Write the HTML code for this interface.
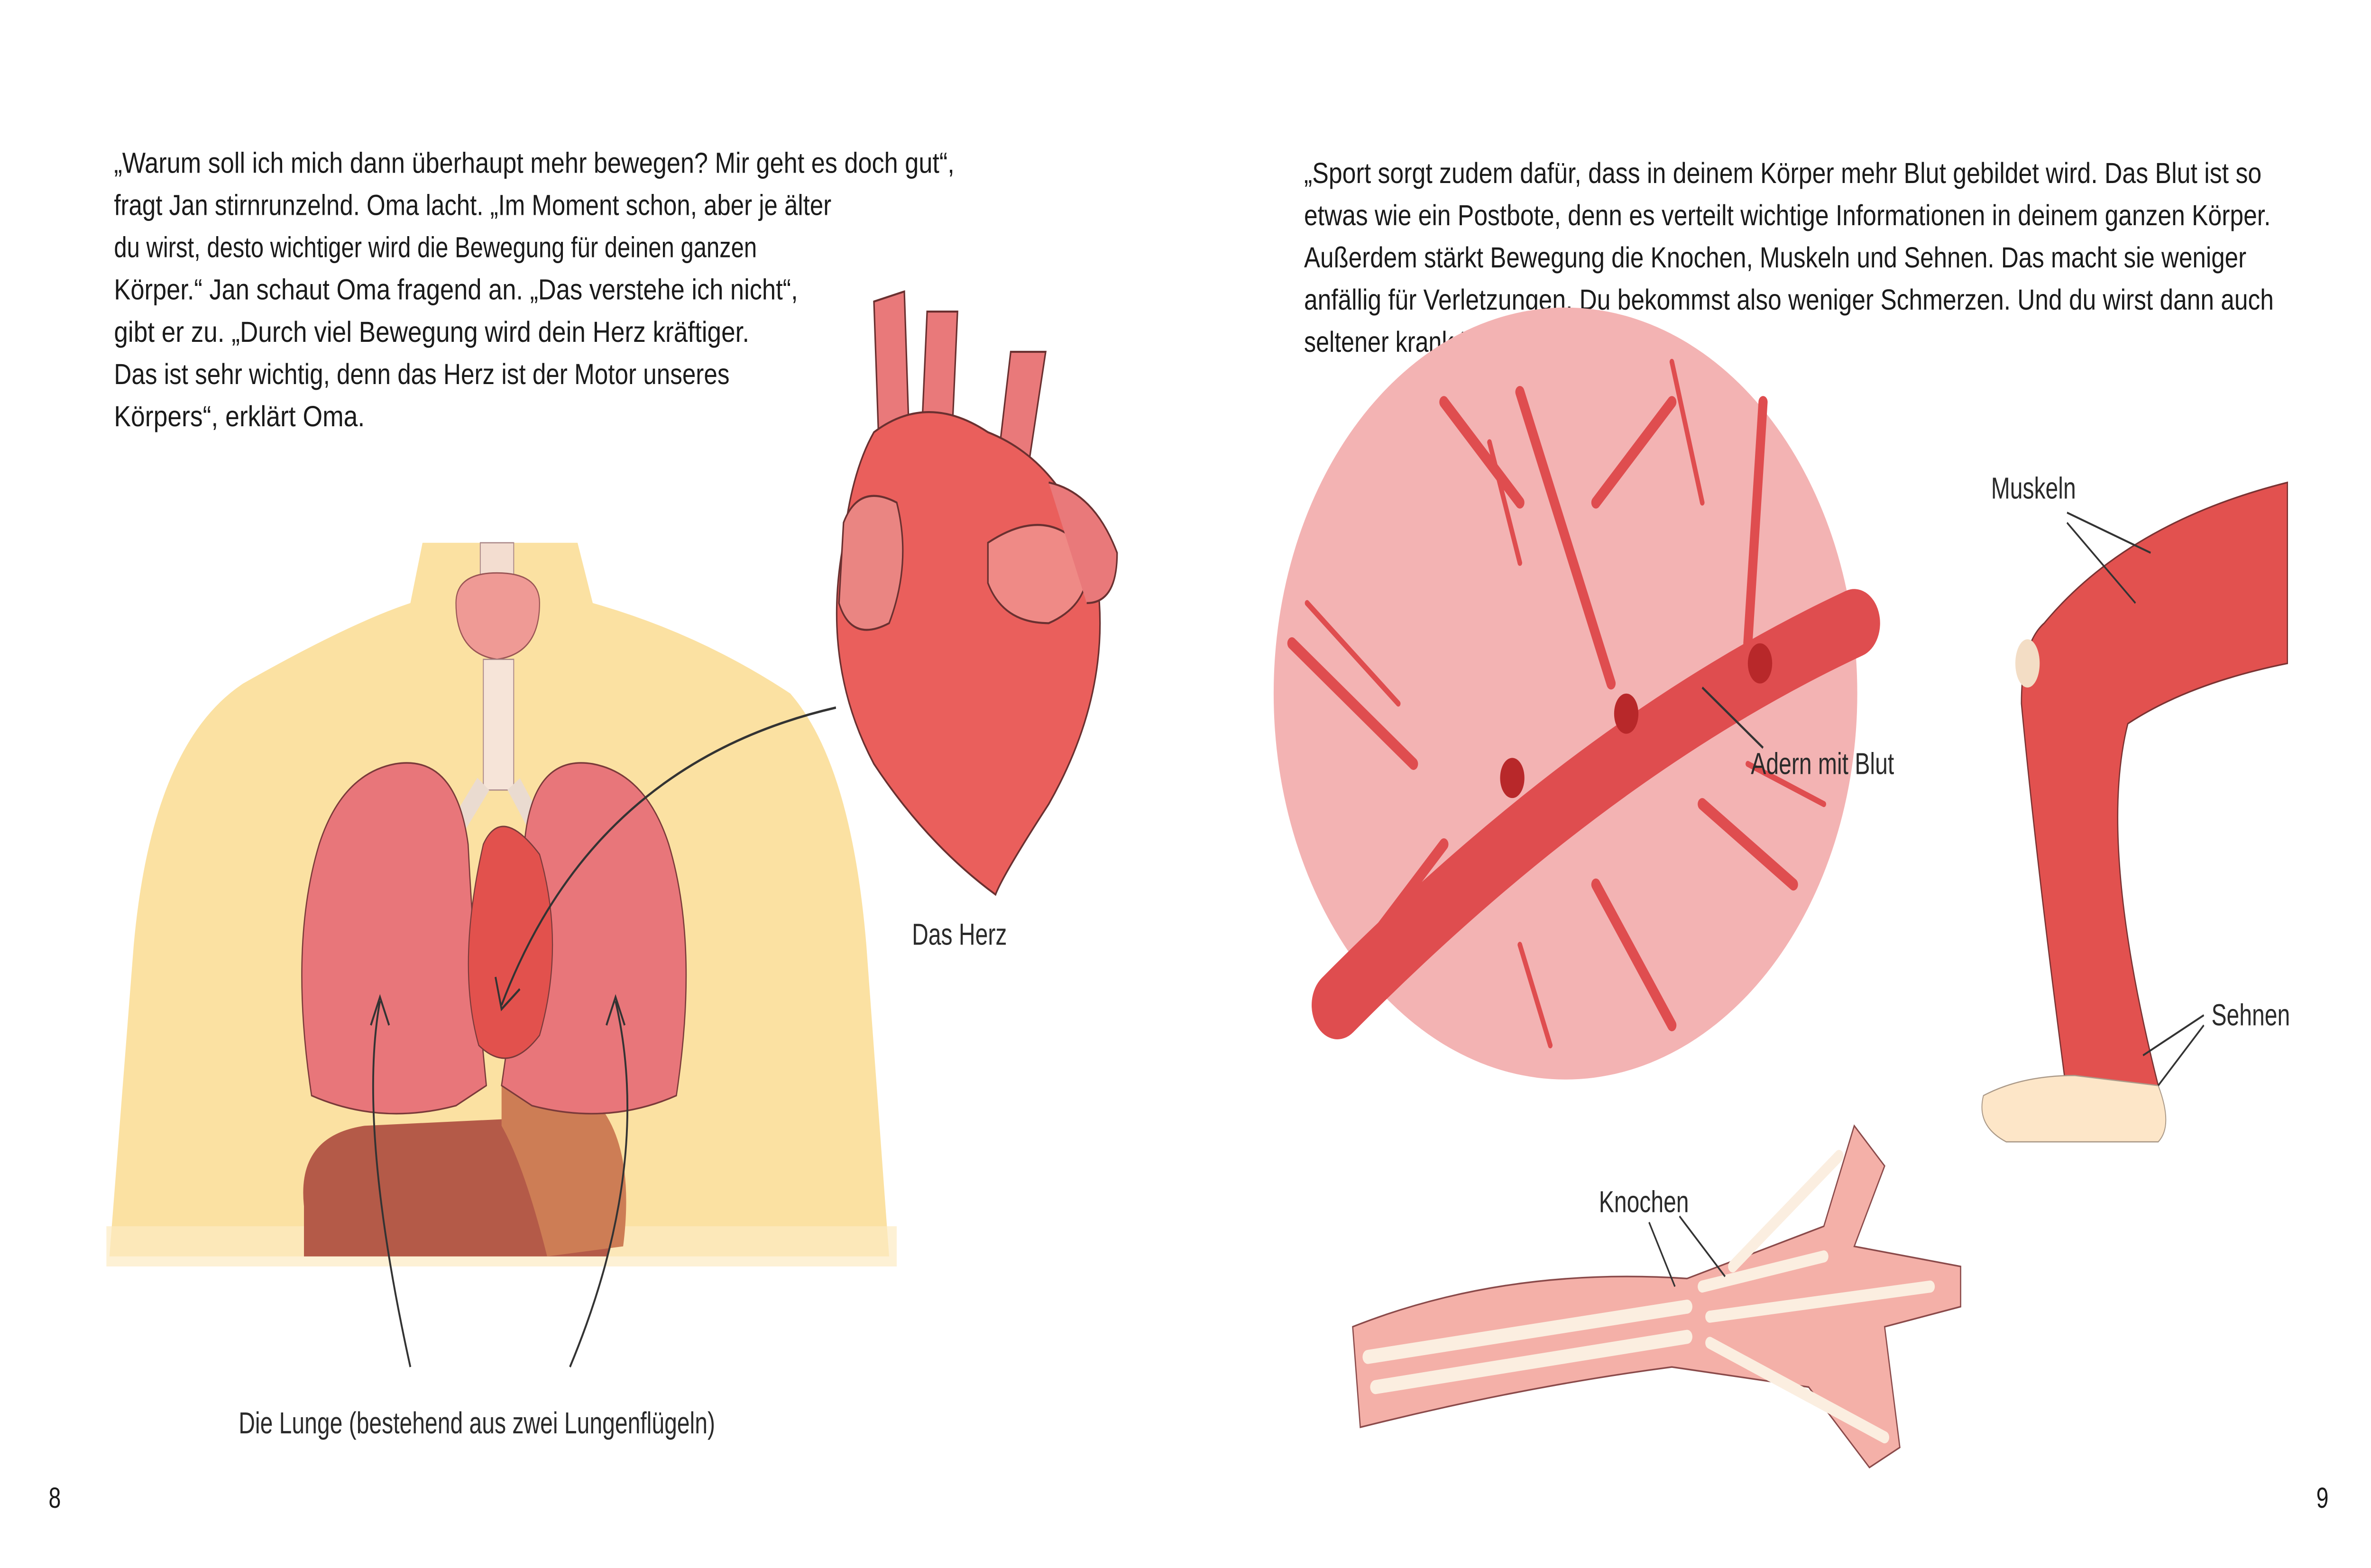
<!DOCTYPE html>
<html><head><meta charset="utf-8">
<style>
html,body{margin:0;padding:0;background:#fff;overflow:hidden;width:100vw;height:100vh;}
svg{display:block;width:100vw;height:100vh;}
.t{font-family:"Liberation Sans",sans-serif;font-size:14.5px;fill:#1a1a1a;}
.l{font-family:"Liberation Sans",sans-serif;font-size:15px;fill:#2a2a2a;}
</style></head><body>
<svg viewBox="0 0 1560 780" preserveAspectRatio="none" xmlns="http://www.w3.org/2000/svg">
<rect width="1560" height="780" fill="#fff"/>
<g class="t">
<text x="75" y="86" textLength="553" lengthAdjust="spacingAndGlyphs">„Warum soll ich mich dann überhaupt mehr bewegen? Mir geht es doch gut“,</text>
<text x="75" y="107" textLength="472" lengthAdjust="spacingAndGlyphs">fragt Jan stirnrunzelnd. Oma lacht. „Im Moment schon, aber je älter</text>
<text x="75" y="128" textLength="423" lengthAdjust="spacingAndGlyphs">du wirst, desto wichtiger wird die Bewegung für deinen ganzen</text>
<text x="75" y="149" textLength="450" lengthAdjust="spacingAndGlyphs">Körper.“ Jan schaut Oma fragend an. „Das verstehe ich nicht“,</text>
<text x="75" y="170" textLength="418" lengthAdjust="spacingAndGlyphs">gibt er zu. „Durch viel Bewegung wird dein Herz kräftiger.</text>
<text x="75" y="191" textLength="405" lengthAdjust="spacingAndGlyphs">Das ist sehr wichtig, denn das Herz ist der Motor unseres</text>
<text x="75" y="212" textLength="165" lengthAdjust="spacingAndGlyphs">Körpers“, erklärt Oma.</text>
</g>
<g class="t">
<text x="858" y="91" textLength="630" lengthAdjust="spacingAndGlyphs">„Sport sorgt zudem dafür, dass in deinem Körper mehr Blut gebildet wird. Das Blut ist so</text>
<text x="858" y="112" textLength="636" lengthAdjust="spacingAndGlyphs">etwas wie ein Postbote, denn es verteilt wichtige Informationen in deinem ganzen Körper.</text>
<text x="858" y="133" textLength="620" lengthAdjust="spacingAndGlyphs">Außerdem stärkt Bewegung die Knochen, Muskeln und Sehnen. Das macht sie weniger</text>
<text x="858" y="154" textLength="638" lengthAdjust="spacingAndGlyphs">anfällig für Verletzungen. Du bekommst also weniger Schmerzen. Und du wirst dann auch</text>
<text x="858" y="175" textLength="108" lengthAdjust="spacingAndGlyphs">seltener krank.“</text>
</g>
<path d="M72,625 L88,470 Q100,370 160,340 Q230,310 270,300 L278,270 L380,270 L390,300 Q460,315 520,345 Q560,380 570,470 L585,625 Z" fill="#fbe1a2"/>
<rect x="70" y="610" width="520" height="20" fill="#fcebc3" opacity="0.7"/>
<rect x="316" y="270" width="22" height="25" fill="#f3ddd0" stroke="#a88" stroke-width="0.6"/>
<path d="M300,300 Q300,285 327,285 Q355,285 355,300 Q355,325 327,328 Q300,325 300,300Z" fill="#ef9a95" stroke="#955" stroke-width="0.7"/>
<rect x="318" y="328" width="20" height="65" fill="#f6e4d8" stroke="#a88" stroke-width="0.6"/>
<path d="M318,390 L302,410 M338,390 L352,410" stroke="#eadbd0" stroke-width="10"/>
<path d="M200,600 Q195,565 240,560 L380,555 Q410,560 405,600 L400,625 L200,625Z" fill="#b45a48"/>
<path d="M330,540 Q360,520 380,540 Q420,560 410,620 L360,625 Q345,580 330,560Z" fill="#cd7d55"/>
<path d="M260,380 Q300,375 308,420 Q312,480 320,540 L300,550 Q250,560 205,545 Q190,470 210,420 Q225,385 260,380Z" fill="#e8767a" stroke="#7a3a3a" stroke-width="0.8"/>
<path d="M390,380 Q350,375 345,420 Q342,480 330,540 L350,550 Q400,560 445,545 Q460,470 440,420 Q425,385 390,380Z" fill="#e8767a" stroke="#7a3a3a" stroke-width="0.8"/>
<path d="M318,420 Q330,400 355,425 Q372,470 355,515 Q335,535 315,520 Q300,480 318,420Z" fill="#e2514d" stroke="#7a3a3a" stroke-width="0.7"/>
<path d="M250,498 Q235,560 270,680" stroke="#333" stroke-width="1.2" fill="none"/>
<path d="M405,498 Q430,580 375,680" stroke="#333" stroke-width="1.2" fill="none"/>
<path d="M244,510 L250,496 L256,510 M399,510 L405,496 L411,510" stroke="#333" stroke-width="1.2" fill="none"/>
<path d="M550,352 Q390,380 330,500" stroke="#333" stroke-width="1.2" fill="none"/>
<path d="M326,486 L330,502 L342,492" stroke="#333" stroke-width="1.2" fill="none"/>
<g stroke="#6a3030" stroke-width="1">
<path d="M575,150 L595,145 L600,260 L580,260Z" fill="#e9797a"/>
<path d="M610,155 L630,155 L625,240 L605,240Z" fill="#e9797a"/>
<path d="M665,175 L688,175 L675,240 L655,240Z" fill="#e9797a"/>
<path d="M575,215 Q610,195 650,215 Q700,230 720,280 Q735,340 690,400 Q660,435 655,445 Q610,420 575,380 Q540,330 555,270 Q560,235 575,215Z" fill="#ea5f5c"/>
<path d="M555,260 Q565,240 590,250 Q600,280 585,310 Q560,320 552,300Z" fill="#ea8582"/>
<path d="M650,270 Q690,250 715,275 Q720,300 690,310 Q660,310 650,290Z" fill="#ef8a86"/>
<path d="M690,240 Q720,245 735,275 Q735,300 715,300" fill="#e9797a"/>
</g>
<text class="l" x="600" y="470">Das Herz</text>
<text class="l" x="157" y="713">Die Lunge (bestehend aus zwei Lungenflügeln)</text>
<circle cx="1030" cy="345" r="192" fill="#f3b3b3"/>
<g stroke="#df4d4f" fill="none" stroke-linecap="round">
<path d="M880,500 Q1050,370 1220,310" stroke-width="34"/>
<path d="M850,320 L930,380 M1000,195 L1060,340 M1160,200 L1150,320 M950,420 L900,470 M1050,440 L1100,510 M1120,400 L1180,440 M1000,250 L950,200 M1050,250 L1100,200" stroke-width="6"/>
<path d="M860,300 L920,350 M980,220 L1000,280 M1100,180 L1120,250 M1000,470 L1020,520 M1150,380 L1200,400" stroke-width="3"/>
</g>
<ellipse cx="995" cy="387" rx="8" ry="10" fill="#b8282a"/>
<ellipse cx="1070" cy="355" rx="8" ry="10" fill="#b8282a"/>
<ellipse cx="1158" cy="330" rx="8" ry="10" fill="#b8282a"/>
<path d="M1120,342 L1160,372" stroke="#333" stroke-width="1.2"/>
<text class="l" x="1152" y="385">Adern mit Blut</text>
<path d="M1345,310 Q1400,260 1505,240 L1505,330 Q1440,340 1400,360 Q1380,420 1420,540 L1360,545 Q1340,430 1330,350 Q1330,320 1345,310Z" fill="#e2514f" stroke="#7a3333" stroke-width="0.8"/>
<ellipse cx="1334" cy="330" rx="8" ry="12" fill="#f3ddc5"/>
<path d="M1305,545 Q1330,535 1365,535 L1420,540 Q1430,560 1420,568 L1320,568 Q1300,560 1305,545Z" fill="#fde6c8" stroke="#a98" stroke-width="0.6"/>
<text class="l" x="1310" y="248">Muskeln</text>
<path d="M1360,255 L1415,275 M1360,260 L1405,300" stroke="#333" stroke-width="1"/>
<text class="l" x="1455" y="510">Sehnen</text>
<path d="M1450,505 L1410,525 M1450,510 L1420,540" stroke="#333" stroke-width="1"/>
<path d="M890,660 Q990,630 1110,636 L1200,610 L1220,560 L1240,580 L1220,620 L1290,630 L1290,650 L1240,660 L1250,720 L1230,730 L1190,690 L1100,680 Q1000,690 895,710Z" fill="#f4b0a8" stroke="#8a4a4a" stroke-width="0.8"/>
<path d="M900,675 L1110,650 M905,690 L1110,665" stroke="#fbeee0" stroke-width="7" stroke-linecap="round"/>
<path d="M1120,640 L1200,625 M1125,655 L1270,640 M1125,668 L1240,715 M1140,630 L1210,575" stroke="#fbeee0" stroke-width="6" stroke-linecap="round"/>
<text class="l" x="1052" y="603">Knochen</text>
<path d="M1085,608 L1102,640 M1105,605 L1135,635" stroke="#333" stroke-width="1"/>
<text class="t" x="32" y="750">8</text>
<text class="t" x="1524" y="750">9</text>
</svg>
</body></html>
